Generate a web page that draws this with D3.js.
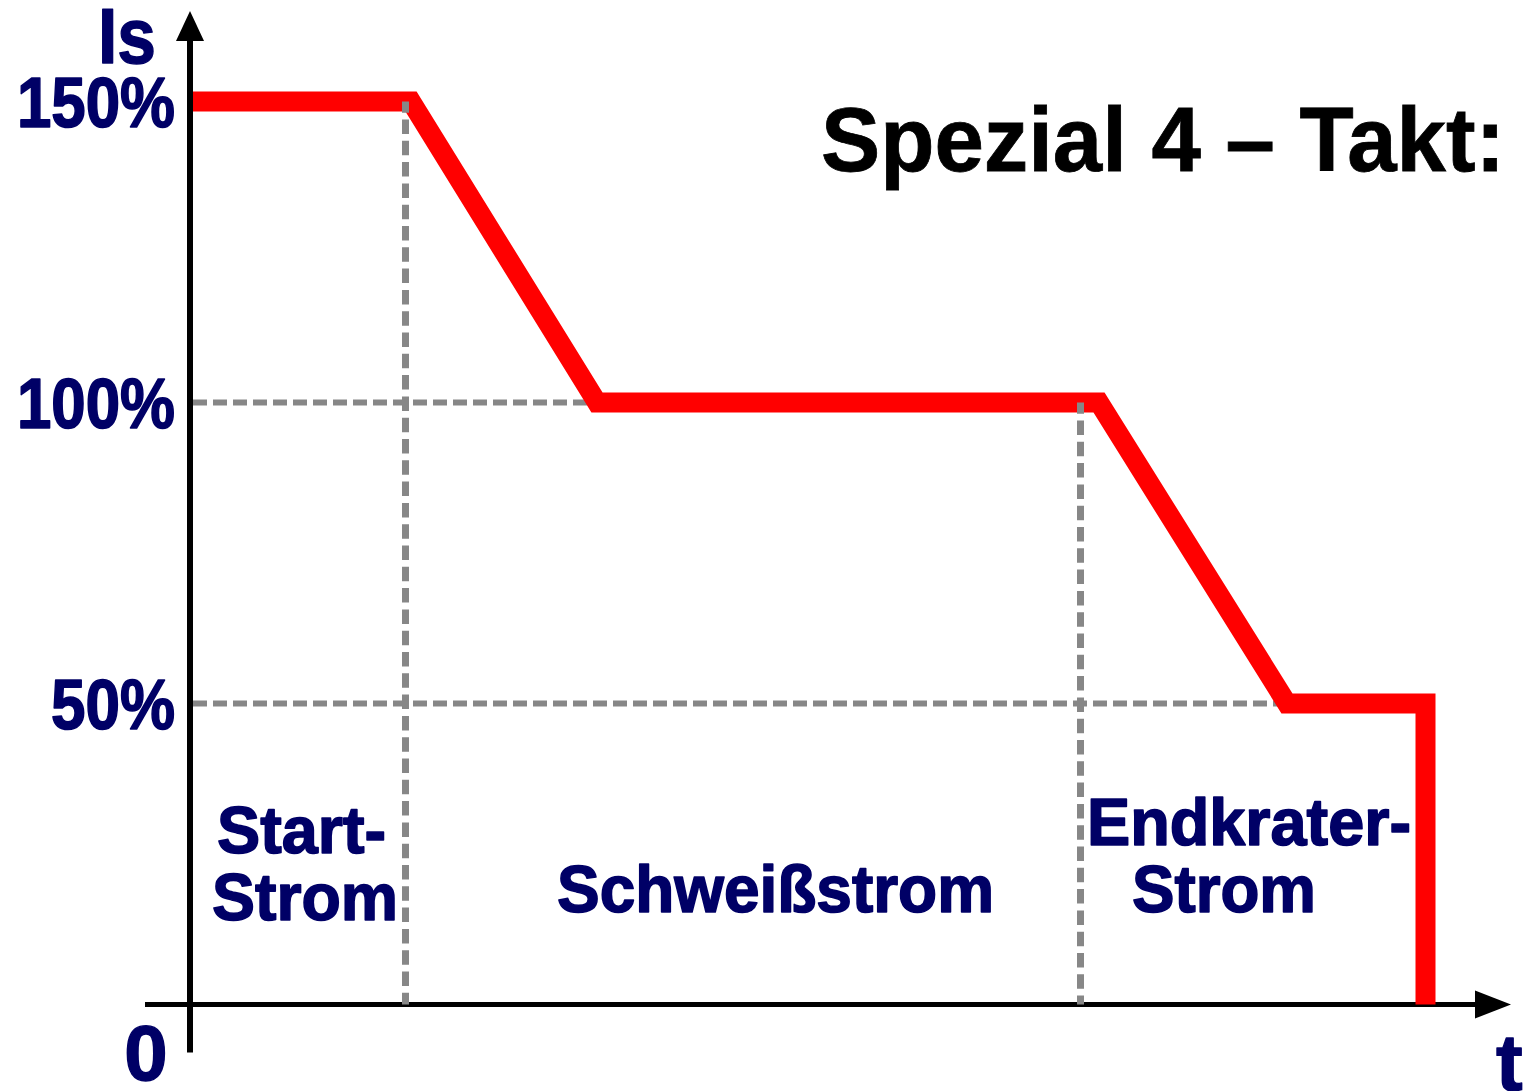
<!DOCTYPE html>
<html>
<head>
<meta charset="utf-8">
<script src="https://cdn.jsdelivr.net/npm/d3@7"></script>
<style>
  html, body { margin: 0; padding: 0; background: #fff; }
  svg { display: block; }
  text { font-family: "Liberation Sans", Arial, sans-serif; font-weight: bold; }
</style>
</head>
<body>
<svg id="chart" width="1526" height="1091"></svg>
<script>
// Current profile of the special 4-stroke mode (time in arbitrary units, current in % of Is)
const profileTime    = [0, 2.21, 4.07, 9.09, 10.97, 12.355, 12.355];
const profileCurrent = [150, 150, 100, 100, 50, 50, 0];

// Phase boundaries (dashed verticals) and reference levels (dashed horizontals)
const boundaryTime    = [2.155, 8.905];
const boundaryTop     = [150, 100];
const levelCurrent    = [100, 50];
const levelEndTime    = [4.07, 10.97];

// Axis ticks and texts
const yTickValues = [50, 100, 150];
const yTickSuffix = "%";
const zeroLabel   = "0";
const yAxisLabel  = "Is";
const xAxisLabel  = "t";
const title       = "Spezial 4 \u2013 Takt:";
const phaseLabels = [["Start-", "Strom"], ["Schweißstrom"], ["Endkrater-", "Strom"]];

const NAVY = "#000066";
const RED = "#ff0000";
const GREY = "#878787";

const svg = d3.select("#chart");

const x = d3.scaleLinear().domain([0, 13]).range([190, 1490]);
const y = d3.scaleLinear().domain([0, 150]).range([1004.5, 101.5]);

// Reference level dashes (under the profile)
svg.append("g").selectAll("line")
  .data(levelCurrent)
  .join("line")
  .attr("x1", x(0)).attr("x2", (d, i) => x(levelEndTime[i]))
  .attr("y1", d => y(d)).attr("y2", d => y(d))
  .attr("stroke", GREY).attr("stroke-width", 6)
  .attr("stroke-dasharray", "14,6").attr("stroke-dashoffset", 17);

// Time axis with arrow
const x0 = x(0), y0 = y(0);
svg.append("line")
  .attr("x1", x0 - 45).attr("x2", 1480)
  .attr("y1", y0).attr("y2", y0)
  .attr("stroke", "#000").attr("stroke-width", 5);
svg.append("path")
  .attr("d", `M1511,${y0} L1475,${y0 - 14} L1475,${y0 + 14} Z`)
  .attr("fill", "#000");

// Current profile
const line = d3.line().x(d => x(d[0])).y(d => y(d[1]));
svg.append("path")
  .datum(profileTime.map((t, i) => [t, profileCurrent[i]]))
  .attr("d", line)
  .attr("fill", "none")
  .attr("stroke", RED)
  .attr("stroke-width", 20)
  .attr("stroke-linejoin", "miter")
  .attr("stroke-miterlimit", 10);

// Phase boundary dashes (over the profile)
svg.append("g").selectAll("line")
  .data(boundaryTime)
  .join("line")
  .attr("x1", d => x(d)).attr("x2", d => x(d))
  .attr("y1", (d, i) => y(boundaryTop[i])).attr("y2", y0)
  .attr("stroke", GREY).attr("stroke-width", 7)
  .attr("stroke-dasharray", "14.5,6.8").attr("stroke-dashoffset", 3.3);

// Current axis with arrow
svg.append("line")
  .attr("x1", x0).attr("x2", x0)
  .attr("y1", y0 + 48).attr("y2", 38)
  .attr("stroke", "#000").attr("stroke-width", 6);
svg.append("path")
  .attr("d", `M${x0},11 L${x0 - 14},41 L${x0 + 14},41 Z`)
  .attr("fill", "#000");

// Heavier outline for the navy lettering
function heavy(sel, w) {
  return sel.attr("stroke", NAVY).attr("stroke-width", w).attr("stroke-linejoin", "round");
}

// Tick labels
const yAxis = d3.axisLeft(y)
  .tickValues(yTickValues)
  .tickSize(0)
  .tickPadding(15)
  .tickFormat(d => d + yTickSuffix);
const gy = svg.append("g").attr("transform", `translate(${x0},0)`).call(yAxis);
gy.select(".domain").remove();
gy.selectAll("text")
  .attr("fill", NAVY)
  .attr("font-size", 70)
  .attr("font-family", "'Liberation Sans', Arial, sans-serif")
  .attr("font-weight", "bold")
  .attr("dy", "0.36em")
  .attr("textLength", d => d >= 100 ? 158 : 124)
  .attr("lengthAdjust", "spacingAndGlyphs")
  .call(heavy, 1.6);

heavy(svg.append("text")
  .attr("x", x0 - 44).attr("y", y0 + 75)
  .attr("text-anchor", "middle")
  .attr("font-size", 78).attr("fill", NAVY)
  .text(zeroLabel), 1.4);

heavy(svg.append("text")
  .attr("x", 98).attr("y", 63)
  .attr("font-size", 78).attr("fill", NAVY)
  .attr("textLength", 58).attr("lengthAdjust", "spacingAndGlyphs")
  .text(yAxisLabel), 1.4);

heavy(svg.append("text")
  .attr("x", 1496).attr("y", 1090)
  .attr("font-size", 80).attr("fill", NAVY)
  .text(xAxisLabel), 1.4);

// Title
svg.append("text")
  .attr("x", 821).attr("y", 171)
  .attr("font-size", 90).attr("fill", "#000")
  .attr("stroke", "#000").attr("stroke-width", 0.8)
  .attr("textLength", 684).attr("lengthAdjust", "spacingAndGlyphs")
  .text(title);

// Phase labels
const phaseLayout = [
  [{x: 217, y: 853, w: 169}, {x: 212, y: 920, w: 186}],
  [{x: 557, y: 912, w: 437}],
  [{x: 1087, y: 845, w: 324}, {x: 1132, y: 912, w: 184}]
];
phaseLabels.forEach((lines, i) => {
  lines.forEach((s, j) => {
    const p = phaseLayout[i][j];
    heavy(svg.append("text")
      .attr("x", p.x).attr("y", p.y)
      .attr("font-size", 66).attr("fill", NAVY)
      .attr("textLength", p.w).attr("lengthAdjust", "spacingAndGlyphs")
      .text(s), 1.6);
  });
});
</script>
</body>
</html>
